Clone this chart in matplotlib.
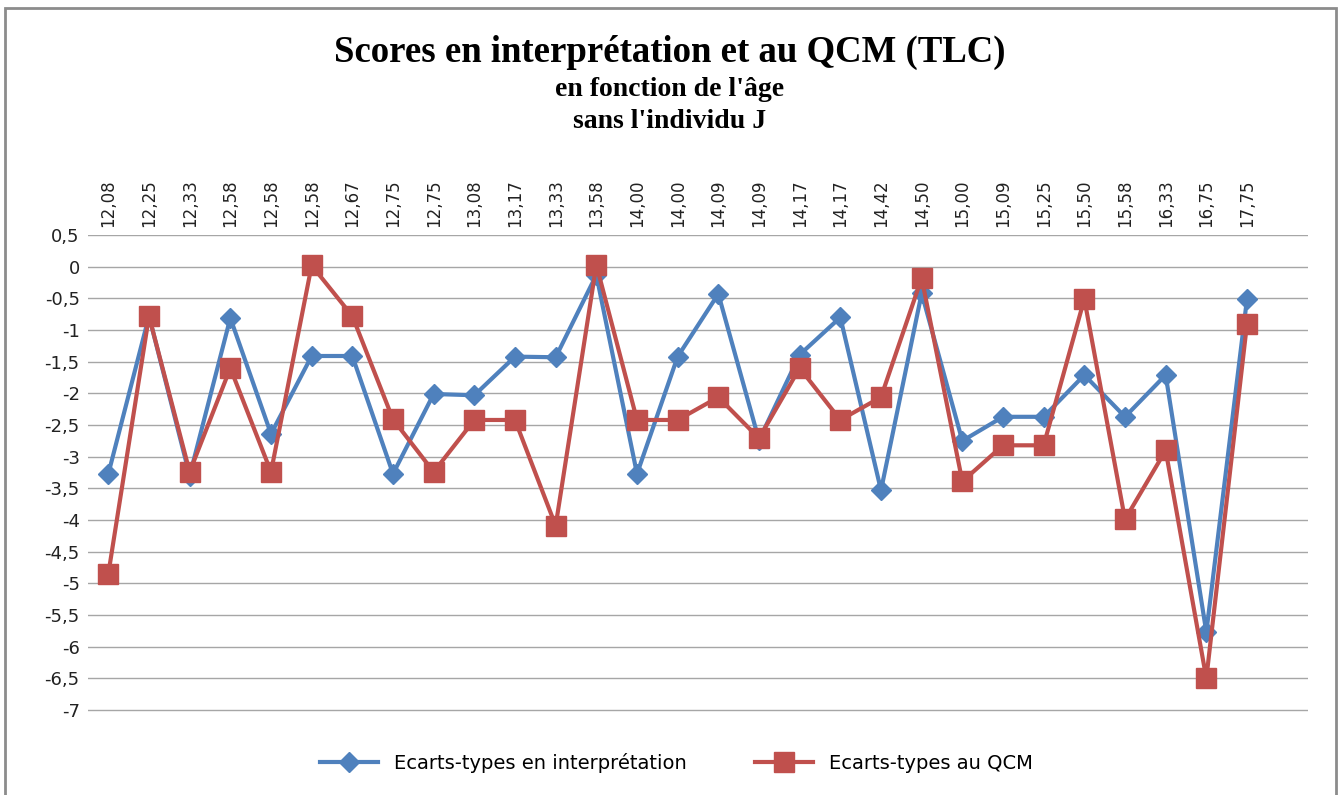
import matplotlib.pyplot as plt
from matplotlib.patches import Rectangle

# ages (x categories) and standard deviations
ages = ['12,08', '12,25', '12,33', '12,58', '12,58', '12,58', '12,67', '12,75',
        '12,75', '13,08', '13,17', '13,33', '13,58', '14,00', '14,00', '14,09',
        '14,09', '14,17', '14,17', '14,42', '14,50', '15,00', '15,09', '15,25',
        '15,50', '15,58', '16,33', '16,75', '17,75']
interp = [-3.27, -0.78, -3.30, -0.81, -2.64, -1.41, -1.41, -3.27,
          -2.01, -2.03, -1.42, -1.43, -0.13, -3.27, -1.42, -0.43,
          -2.74, -1.39, -0.80, -3.53, -0.42, -2.75, -2.37, -2.37,
          -1.71, -2.37, -1.71, -5.77, -0.51]
qcm = [-4.85, -0.78, -3.24, -1.60, -3.24, 0.02, -0.78, -2.41,
       -3.24, -2.42, -2.42, -4.09, 0.03, -2.42, -2.42, -2.06,
       -2.71, -1.60, -2.42, -2.06, -0.18, -3.39, -2.82, -2.82,
       -0.51, -3.99, -2.90, -6.50, -0.90]
yticks = [0.5, 0, -0.5, -1, -1.5, -2, -2.5, -3, -3.5, -4, -4.5, -5, -5.5, -6, -6.5, -7]

blue = '#4F81BD'
red = '#C0504D'

fig = plt.figure(figsize=(13.39, 7.95), dpi=100)
ax = fig.add_axes([88/1339, 1-712/795, 1220/1339, 477/795])

x = list(range(len(ages)))
ax.plot(x, interp, color=blue, lw=3, marker='D', ms=10, label='Ecarts-types en interprétation')
ax.plot(x, qcm, color=red, lw=3, marker='s', ms=14, label='Ecarts-types au QCM')

ax.set_xlim(-0.5, len(ages) + 0.5)
ax.set_ylim(-7.03, 0.5)
ax.set_yticks(yticks)
ax.set_yticklabels([('%g' % v).replace('.', ',') for v in yticks], fontsize=13, color='#222222')
ax.set_xticks(x)
ax.set_xticklabels(ages, rotation=90, fontsize=12, color='#222222')
ax.xaxis.tick_top()
ax.tick_params(length=0, pad=6)
ax.grid(axis='y', color='#A6A6A6', lw=1)
ax.set_axisbelow(True)
for s in ax.spines.values():
    s.set_visible(False)

fig.text(0.5, 1-52/795, 'Scores en interprétation et au QCM (TLC)', ha='center', va='center',
         family='Liberation Serif', weight='bold', fontsize=26.5)
fig.text(0.5, 1-90/795, "en fonction de l'âge", ha='center', va='center',
         family='Liberation Serif', weight='bold', fontsize=20)
fig.text(0.5, 1-121/795, "sans l'individu J", ha='center', va='center',
         family='Liberation Serif', weight='bold', fontsize=20)

fig.legend(loc='center', bbox_to_anchor=(0.505, 1-763/795), ncol=2, frameon=False,
           fontsize=14, handlelength=3, columnspacing=3.5)

fig.patches.append(Rectangle((5/1339, -0.01), 1331/1339, 1-8/795 + 0.01, transform=fig.transFigure,
                             fill=False, ec='#8C8C8C', lw=2))

fig.savefig('out.png', dpi=100)
